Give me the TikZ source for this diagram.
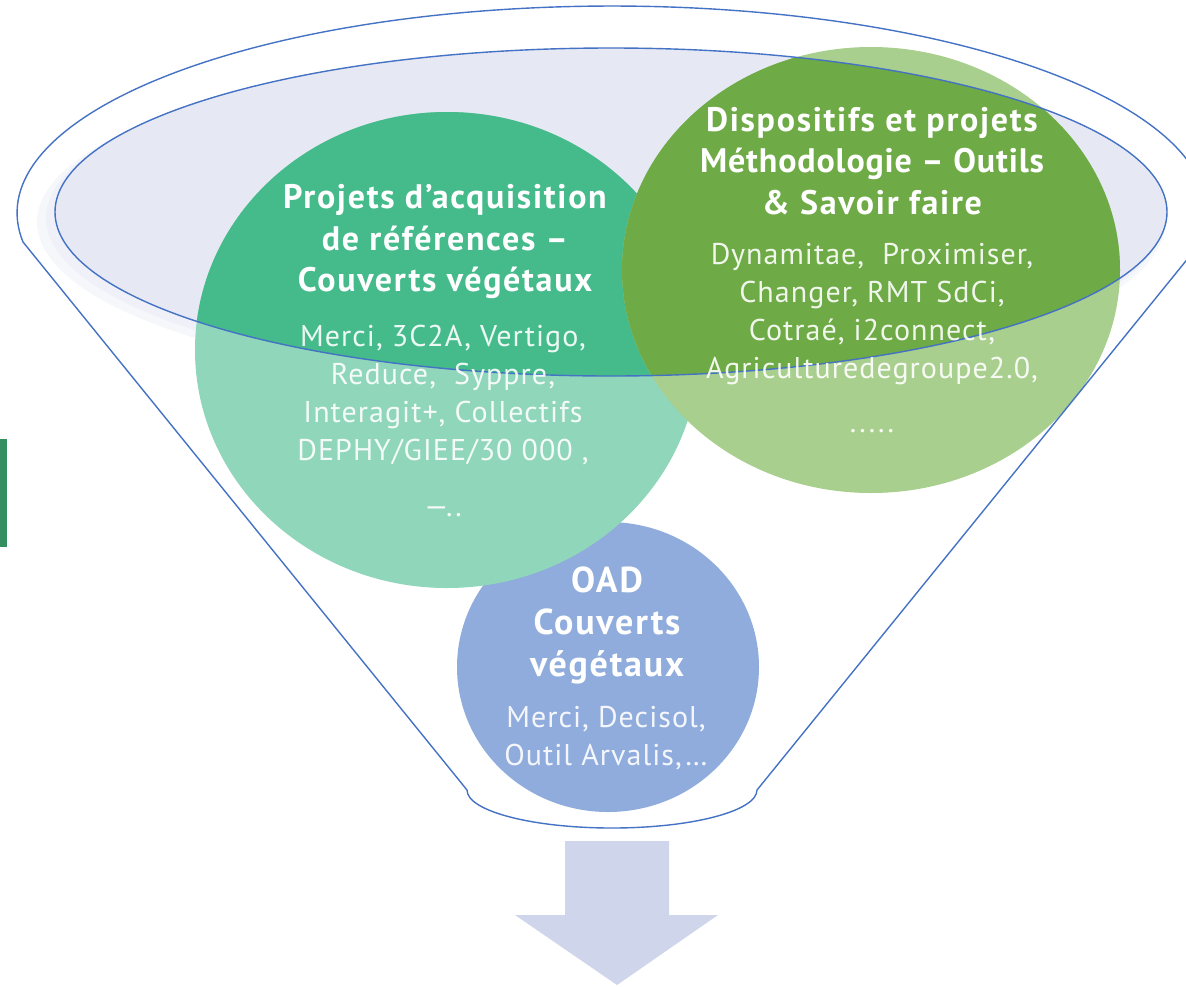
\documentclass[tikz,border=0pt]{standalone}
\usepackage{fontspec}
\setmainfont{PT Sans}
\newfontfamily\titlefont{PT Sans}[LetterSpace=5]
\newfontfamily\titlefontnarrow{PT Sans}[LetterSpace=2.5]
\newfontfamily\bodyfont{PT Sans}[LetterSpace=3.5]
\definecolor{funnelblue}{HTML}{4472C4}
\definecolor{lav}{HTML}{E6E8F4}
\definecolor{gAdark}{HTML}{45BB8C}
\definecolor{gAlight}{HTML}{8FD6BB}
\definecolor{gBdark}{HTML}{6EAA45}
\definecolor{gBlight}{HTML}{A9CF8E}
\definecolor{bcirc}{HTML}{8FACDC}
\definecolor{arrowfill}{HTML}{CFD5EA}
\definecolor{barg}{HTML}{338F62}
\begin{document}
\begin{tikzpicture}[x=1pt,y=-1pt,
  title/.style={text=white, align=center, inner sep=0pt, font=\titlefont\fontsize{34}{41.5}\selectfont\bfseries},
  titlebig/.style={title, font=\titlefont\fontsize{36}{42}\selectfont\bfseries},
  body/.style={text=white, text opacity=0.9, align=center, inner sep=0pt, font=\bodyfont\fontsize{30}{38}\selectfont},
  outline/.style={draw=funnelblue, line width=1.4pt}]
\useasboundingbox (0,0) rectangle (1186,986);
% left bar
\fill[barg] (0,439) rectangle (7,547);
% shadow and rim
\fill[lav, opacity=0.35] (601,222) ellipse [x radius=564, y radius=167];
\fill[lav, opacity=0.45] (605,218) ellipse [x radius=559, y radius=165];
\fill[lav] (611,212) ellipse [x radius=556, y radius=164];
% circles
\fill[bcirc] (608,667) ellipse [x radius=151, y radius=145];
\fill[gAlight] (447,350) ellipse [x radius=252, y radius=238];
\begin{scope}
  \clip (611,212) ellipse [x radius=556, y radius=164];
  \fill[gAdark] (447,350) ellipse [x radius=252, y radius=238];
\end{scope}
\fill[gBlight] (871,270) ellipse [x radius=249, y radius=223];
\begin{scope}
  \clip (611,212) ellipse [x radius=556, y radius=164];
  \fill[gBdark] (871,270) ellipse [x radius=249, y radius=223];
\end{scope}
% outlines
\draw[outline] (611,212) ellipse [x radius=556, y radius=164];
\draw[outline] (23,242) arc[start angle=171.95, end angle=368.05, x radius=595, y radius=207]
  -- (757,790) arc[start angle=0, end angle=180, x radius=145, y radius=38] -- cycle;
% arrow
\fill[arrowfill] (565,841) -- (669,841) -- (669,915) -- (718,915) -- (617,985) -- (515,915) -- (565,915) -- cycle;
% texts
\node[title] (tA) at (445,242) {Projets d’acquisition\\de références –\\Couverts végétaux};
\node[body] (bA) at (443,395) {Merci, 3C2A, Vertigo,\\Reduce,\ \ Syppre,\\Interagit+, Collectifs\\DEPHY/GIEE/30 000 ,};
\node[body] (eA) at (443,512) {—..};
\node[title] (tB) at (872,161) {Dispositifs et projets\\{\titlefontnarrow\fontsize{34}{41.5}\selectfont\bfseries Méthodologie – Outils}\\\& Savoir faire};
\node[body] (bB) at (872,314) {Dynamitae,\ \ Proximiser,\\Changer, RMT SdCi,\\Cotraé, i2connect,\\Agriculturedegroupe2.0,};
\node[body] (eB) at (872,431) {.....};
\node[titlebig] (tC) at (607,625) {OAD\\Couverts\\végétaux};
\node[body] (bC) at (606,738) {Merci, Decisol,\\Outil Arvalis,…};
\end{tikzpicture}
\end{document}
